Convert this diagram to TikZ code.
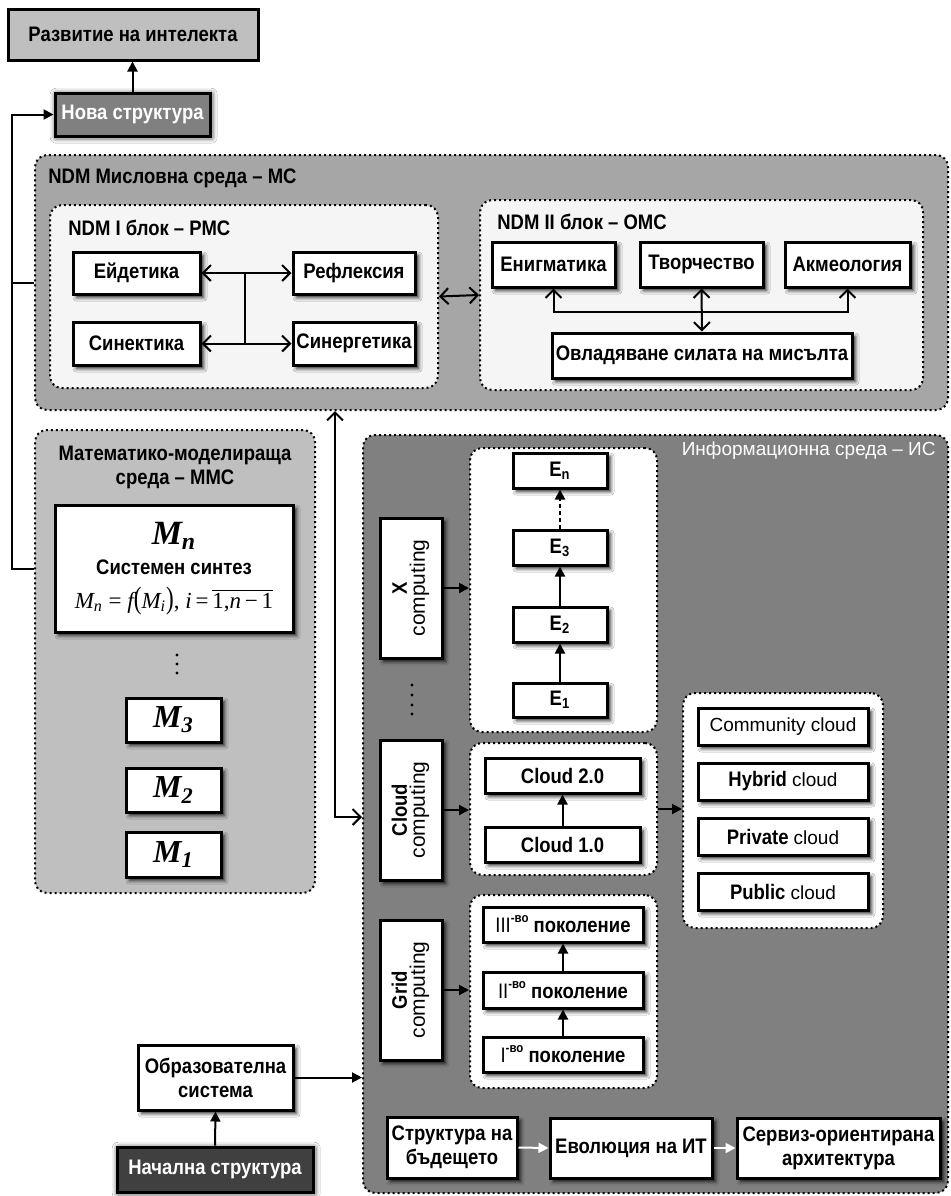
\documentclass[tikz,border=0pt]{standalone}
\usepackage{fontspec}
\usepackage{graphicx}
\setmainfont{Liberation Sans}[FakeStretch=0.88]
\newfontfamily\wide{Liberation Sans}
\newfontfamily\tnr{Liberation Serif}
\usetikzlibrary{arrows.meta,shadows.blur}

\definecolor{lightfill}{gray}{0.75}
\definecolor{midfill}{gray}{0.5}
\definecolor{msfill}{gray}{0.65}
\definecolor{blockfill}{gray}{0.96}
\definecolor{darkfill}{gray}{0.25}

\newcommand\reg[1]{{\wide\mdseries\fontsize{9.5}{11}\selectfont #1}}
\newcommand\comp{{\wide\mdseries\fontsize{10.5}{12}\selectfont computing}}
\newcommand\gen[1]{{\mdseries #1}\raisebox{0.9ex}{\fontsize{6.5}{7}\selectfont -во}\ поколение}

\begin{document}
\begin{tikzpicture}[x=0.5pt,y=-0.5pt,
  boxat/.style n args={4}{minimum width={(#3-#1)*0.5pt}, minimum height={(#4-#2)*0.5pt},
    at={({(#1+#3)/2},{(#2+#4)/2})}},
  plainbox/.style={draw, line width=1.5pt, fill=white, inner sep=0pt, align=center,
    font=\fontsize{10.5}{12}\selectfont\bfseries},
  box/.style={plainbox, blur shadow={shadow xshift=1.8pt, shadow yshift=-1.8pt,
    shadow blur radius=1.8pt, shadow opacity=85}},
  glowbox/.style={plainbox, text=white, blur shadow={shadow xshift=0.6pt, shadow yshift=-0.6pt,
    shadow blur radius=3pt, shadow opacity=95}},
  cont/.style={draw, line width=1pt, dash pattern=on 1pt off 1.5pt, rounded corners=6pt, inner sep=0pt},
  heading/.style={font=\fontsize{10.5}{12}\selectfont\bfseries, inner sep=0pt},
  link/.style={line width=1pt},
  tri/.style={link, -{Triangle[length=5pt,width=5pt]}},
  barbs/.style={link, {Straight Barb[length=4pt,width=8pt]}-{Straight Barb[length=4pt,width=8pt]}},
]
\useasboundingbox (0,0) rectangle (950,1196);
\fill[white] (0,0) rectangle (950,1196);

% ---- environments ----
\node[cont, fill=msfill, boxat={35}{155}{948}{410}] (ms) {};
\node[heading, anchor=west] (mstitle) at (48,178) {NDM Мисловна среда – МС};
\node[cont, fill=blockfill, boxat={50}{205}{438}{388}] (b1) {};
\node[heading, anchor=west] (b1title) at (68,228) {NDM I блок – РМС};
\node[cont, fill=blockfill, boxat={480}{200}{923}{390}] (b2) {};
\node[heading, anchor=west] (b2title) at (497,222) {NDM II блок – ОМС};
\node[cont, fill=lightfill, boxat={35}{430}{315}{893}] (mms) {};
\node[heading, align=center] (mmstitle) at (175,467) {Математико-моделираща\\среда – ММС};
\node[cont, fill=midfill, boxat={363}{435}{948}{1193}] (is) {};
\node[inner sep=0pt, anchor=east, text=white, font=\wide\fontsize{9.5}{11}\selectfont] (istitle) at (936,451) {Информационна среда – ИС};
\node[cont, fill=white, boxat={470}{448}{657}{732}] (econt) {};
\node[cont, fill=white, boxat={470}{743}{657}{875}] (ccont) {};
\node[cont, fill=white, boxat={683}{693}{883}{928}] (types) {};
\node[cont, fill=white, boxat={470}{895}{657}{1088}] (gcont) {};

% ---- top ----
\node[plainbox, fill=lightfill, boxat={8}{9}{258}{60}] (dev) {Развитие на интелекта};
\node[glowbox, fill=midfill, boxat={55}{93}{210}{136}] (nova) {Нова структура};

% ---- NDM I block ----
\node[box, boxat={73}{252}{200}{294}] (eid) {Ейдетика};
\node[box, boxat={293}{252}{415}{294}] (refl) {Рефлексия};
\node[box, boxat={73}{322}{200}{365}] (sin) {Синектика};
\node[box, boxat={293}{322}{415}{365}] (syn) {Синергетика};

% ---- NDM II block ----
\node[box, boxat={492}{242}{615}{287}] (enig) {Енигматика};
\node[box, boxat={640}{242}{763}{287}] (tvor) {Творчество};
\node[box, boxat={785}{242}{910}{287}] (akm) {Акмеология};
\node[box, boxat={552}{333}{852}{378}] (ovl) {Овладяване силата на мисълта};

% ---- mathematical modelling ----
\node[box, boxat={55}{505}{293}{632}] (mn) {%
  {\tnr\bfseries\itshape\fontsize{17}{17}\selectfont M\textsubscript{n}}\\[3pt]
  Системен синтез\\[5pt]
  {\tnr\mdseries\fontsize{11.5}{12}\selectfont\itshape M\textsubscript{n}\upshape\ =\ \itshape f\upshape\scalebox{1}[1.35]{(}\itshape M\textsubscript{i}\upshape\scalebox{1}[1.35]{)}, \itshape i\upshape\,=\,$\overline{\mbox{\tnr\mdseries\fontsize{11.5}{12}\selectfont 1,\itshape n\upshape\,−\,1}}$}};
\foreach \y in {655,664,673} \fill (177,\y) circle (0.8pt);
\node[box, boxat={126}{698}{221}{742}] (m3) {\tnr\itshape\fontsize{16}{16}\selectfont M\textsubscript{3}};
\node[box, boxat={126}{768}{221}{812}] (m2) {\tnr\itshape\fontsize{16}{16}\selectfont M\textsubscript{2}};
\node[box, boxat={126}{832}{221}{877}] (m1) {\tnr\itshape\fontsize{16}{16}\selectfont M\textsubscript{1}};

% ---- information environment ----
\node[box, boxat={380}{518}{442}{658}] (xc) {\rotatebox{90}{\begin{tabular}{@{}c@{}}X\\[-3pt]\comp\end{tabular}}};
\node[box, boxat={380}{740}{442}{880}] (cc) {\rotatebox{90}{\begin{tabular}{@{}c@{}}Cloud\\[-3pt]\comp\end{tabular}}};
\node[box, boxat={380}{920}{442}{1060}] (gc) {\rotatebox{90}{\begin{tabular}{@{}c@{}}Grid\\[-3pt]\comp\end{tabular}}};
\foreach \y in {685,695,705,714} \fill (412,\y) circle (0.8pt);

\node[box, boxat={513}{453}{607}{488}] (en) {E\textsubscript{n}};
\node[box, boxat={513}{530}{607}{565}] (e3) {E\textsubscript{3}};
\node[box, boxat={513}{607}{607}{642}] (e2) {E\textsubscript{2}};
\node[box, boxat={513}{683}{607}{717}] (e1) {E\textsubscript{1}};

\node[box, boxat={485}{758}{640}{793}] (c2) {Cloud 2.0};
\node[box, boxat={485}{827}{640}{862}] (c1) {Cloud 1.0};

\node[box, boxat={698}{708}{868}{745}] (comm) {\reg{Community cloud}};
\node[box, boxat={698}{763}{868}{800}] (hyb) {Hybrid \reg{cloud}};
\node[box, boxat={698}{818}{868}{855}] (priv) {Private \reg{cloud}};
\node[box, boxat={698}{873}{868}{910}] (pub) {Public \reg{cloud}};

\node[box, boxat={483}{907}{643}{942}] (g3) {\gen{III}};
\node[box, boxat={483}{972}{643}{1008}] (g2) {\gen{II}};
\node[box, boxat={483}{1037}{643}{1072}] (g1) {\gen{I}};

\node[box, boxat={387}{1117}{517}{1178}] (str) {Структура на\\бъдещето};
\node[box, boxat={550}{1118}{712}{1178}] (evo) {Еволюция на ИТ};
\node[box, boxat={737}{1118}{940}{1178}] (serv) {Сервиз-ориентирана\\архитектура};

% ---- bottom left ----
\node[box, boxat={138}{1045}{293}{1110}] (obr) {Образователна\\система};
\node[glowbox, fill=darkfill, boxat={117}{1147}{313}{1192}] (nach) {Начална структура};

% ---- connectors ----
\draw[tri] (nova.north) -- (nova.north |- dev.south);
\coordinate (lp) at (12,0);
\draw[tri] (mms.west |- mn.west) -- (lp |- mn.west) -- (lp |- nova.west) -- (nova.west);
\draw[link] (ms.west) -- (lp |- ms.west);

\coordinate (j1) at (245,0);
\draw[barbs] (eid.east) -- (refl.west);
\draw[barbs] (sin.east) -- (syn.west);
\draw[link] (j1 |- eid.east) -- (j1 |- sin.east);
\draw[barbs] (b1.east) -- (b2.west);
\draw[barbs] (enig.south) -- ++(0,23) -| (akm.south);
\draw[barbs] (tvor.south) -- (ovl.north);

\coordinate (vx) at (335,817);
\draw[barbs] (vx |- ms.south) -- (vx) -- (vx -| is.west);

\draw[tri] (xc.east) -- (xc.east -| econt.west);
\draw[tri] (cc.east) -- (cc.east -| ccont.west);
\draw[tri] (ccont.east) -- (ccont.east -| types.west);
\draw[tri] (gc.east) -- (gc.east -| gcont.west);

\draw[tri] (e1.north) -- (e2.south);
\draw[tri] (e2.north) -- (e3.south);
\draw[tri, dash pattern=on 2pt off 1.5pt] (e3.north) -- (en.south);
\draw[tri] (c1.north) -- (c2.south);
\draw[tri] (g1.north) -- (g2.south);
\draw[tri] (g2.north) -- (g3.south);

\draw[tri] (obr.east) -- (obr.east -| is.west);
\draw[tri] (nach.north) -- (obr.south);
\draw[tri, white] (str.east) -- (evo.west);
\draw[tri, white] (evo.east) -- (serv.west);
\end{tikzpicture}
\end{document}
